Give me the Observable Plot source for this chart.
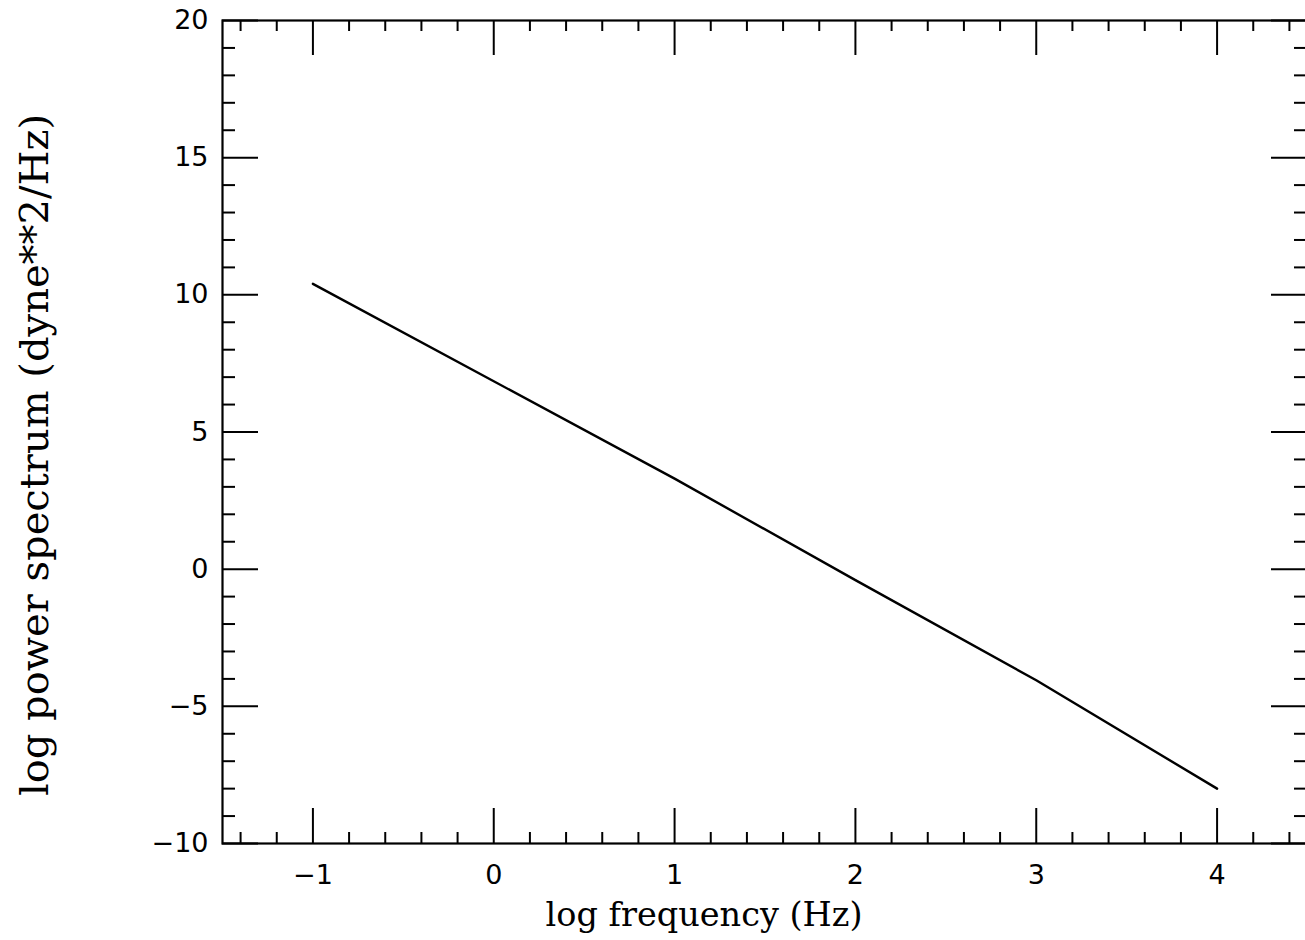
<!DOCTYPE html>
<html>
<head>
<meta charset="utf-8">
<script src="https://cdn.jsdelivr.net/npm/d3@7"></script>
<script src="https://cdn.jsdelivr.net/npm/@observablehq/plot@0.6"></script>
<style>
  html, body { margin: 0; padding: 0; background: #fff; overflow: hidden; }
  #chart svg { display: block; }
</style>
</head>
<body>
<div id="chart"></div>
<script>
// Data
const logFreq = [-1, 0, 1, 2, 3, 4];
const logPower = [10.4, 6.85, 3.3, -0.4, -4.05, -8.0];

// Tick values
const xMajorTicks = [-1, 0, 1, 2, 3, 4];
const xMinorTicks = [-1.4, -1.2, -0.8, -0.6, -0.4, -0.2, 0.2, 0.4, 0.6, 0.8, 1.2, 1.4, 1.6, 1.8, 2.2, 2.4, 2.6, 2.8, 3.2, 3.4, 3.6, 3.8, 4.2, 4.4];
const yMajorTicks = [-10, -5, 0, 5, 10, 15, 20];
const yMinorTicks = [-9, -8, -7, -6, -4, -3, -2, -1, 1, 2, 3, 4, 6, 7, 8, 9, 11, 12, 13, 14, 16, 17, 18, 19];

const xLabel = "log frequency (Hz)";
const yLabel = "log power spectrum (dyne**2/Hz)";

const data = logFreq.map((x, i) => ({x, y: logPower[i]}));

const W = 1305, H = 940;
const mL = 222, mT = 20, mB = 97, mR = -2;
const fw = W - mL - mR, fh = H - mT - mB;
const fmt = d => (d < 0 ? "\u2212" + Math.abs(d) : String(d));

const chart = Plot.plot({
  width: W,
  height: H,
  marginLeft: mL,
  marginTop: mT,
  marginBottom: mB,
  marginRight: mR,
  style: {background: "#fff", color: "#000"},
  x: {domain: [-1.5, 4.5]},
  y: {domain: [-10, 20]},
  marks: [
    // minor & major x ticks, bottom and top, pointing inward
    Plot.tickX(xMinorTicks, {x: d => d, insetTop: fh - 11, stroke: "#000", strokeWidth: 2}),
    Plot.tickX(xMinorTicks, {x: d => d, insetBottom: fh - 11, stroke: "#000", strokeWidth: 2}),
    Plot.tickX(xMajorTicks, {x: d => d, insetTop: fh - 35, stroke: "#000", strokeWidth: 2}),
    Plot.tickX(xMajorTicks, {x: d => d, insetBottom: fh - 35, stroke: "#000", strokeWidth: 2}),
    // y ticks left and right
    Plot.tickY(yMinorTicks, {y: d => d, insetRight: fw - 13, stroke: "#000", strokeWidth: 2}),
    Plot.tickY(yMinorTicks, {y: d => d, insetLeft: fw - 13, stroke: "#000", strokeWidth: 2}),
    Plot.tickY(yMajorTicks, {y: d => d, insetRight: fw - 36, stroke: "#000", strokeWidth: 2}),
    Plot.tickY(yMajorTicks, {y: d => d, insetLeft: fw - 36, stroke: "#000", strokeWidth: 2}),
    Plot.frame({stroke: "#000", strokeWidth: 2.2}),
    Plot.line(data, {x: "x", y: "y", stroke: "#000", strokeWidth: 2.4}),
    Plot.axisX(xMajorTicks, {
      tickSize: 0, tickPadding: 21, tickFormat: fmt, label: null,
      fontSize: 27, fontFamily: "DejaVu Sans", fill: "#000"
    }),
    Plot.axisY(yMajorTicks, {
      tickSize: 0, tickPadding: 14, tickFormat: fmt, label: null,
      fontSize: 27, fontFamily: "DejaVu Sans", fill: "#000"
    }),
    Plot.text([xLabel], {
      text: d => d, frameAnchor: "bottom", dx: -61, dy: 72,
      textAnchor: "middle", lineAnchor: "middle",
      fontSize: 33.5, fontFamily: "DejaVu Serif", fill: "#000"
    }),
    Plot.text([yLabel], {
      text: d => d, frameAnchor: "left", dx: -187, dy: 23, rotate: -90,
      textAnchor: "middle", lineAnchor: "middle",
      fontSize: 40, fontFamily: "DejaVu Serif", fill: "#000"
    })
  ]
});
document.getElementById("chart").appendChild(chart);
</script>
</body>
</html>
